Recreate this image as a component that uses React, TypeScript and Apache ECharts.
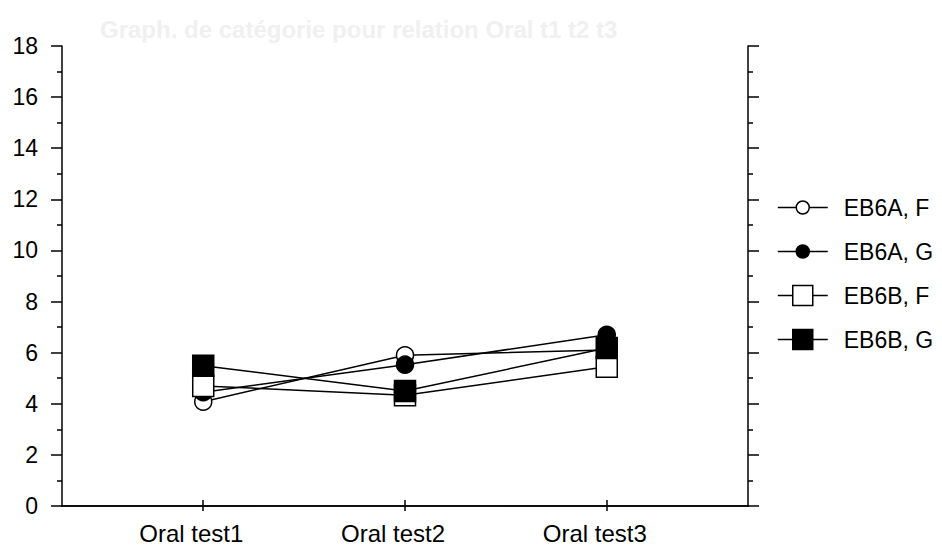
import React, { useEffect, useRef } from "react";
import * as echarts from "echarts";

const categories = ["Oral test1", "Oral test2", "Oral test3"];
const xPositions = [1, 2, 3];
const seriesNames = ["EB6A, F", "EB6A, G", "EB6B, F", "EB6B, G"];
const eb6aF = [4.08, 5.9, 6.1];
const eb6aG = [4.45, 5.53, 6.7];
const eb6bF = [4.7, 4.33, 5.45];
const eb6bG = [5.49, 4.5, 6.18];
const titleText = "Graph. de catégorie pour relation Oral t1 t2 t3";

const FONT = "'Liberation Sans', Arial, sans-serif";

const circleIcon =
  "path://M0,10L18,10M32,10L50,10M18.5,10A6.5,6.5,0,1,1,31.5,10A6.5,6.5,0,1,1,18.5,10Z";
const squareIcon = "path://M0,10L15,10M35,10L50,10M15,0L35,0L35,20L15,20Z";

export default function App() {
  const ref = useRef<HTMLDivElement>(null);
  useEffect(() => {
    if (!ref.current) return;
    const chart = echarts.init(ref.current, null, { renderer: "svg" });
    const values = [eb6aF, eb6aG, eb6bF, eb6bG];
    const fills = ["#ffffff", "#000000", "#ffffff", "#000000"];
    const symbols = ["circle", "circle", "rect", "rect"];
    const sizes = [17, 17, 21, 21];
    const icons = [circleIcon, circleIcon, squareIcon, squareIcon];

    const series = seriesNames.map((name, s) => ({
      name,
      type: "line",
      data: xPositions.map((x, i) => [x, values[s][i]]),
      symbol: symbols[s],
      symbolSize: sizes[s],
      showAllSymbol: true,
      itemStyle: { color: fills[s], borderColor: "#000", borderWidth: 1.5 },
      lineStyle: { color: "#000", width: 1.5 },
      emphasis: { disabled: true },
    }));

    const yCommon = {
      type: "value",
      min: 0,
      max: 18,
      interval: 2,
      splitLine: { show: false },
      axisLine: { show: true, lineStyle: { color: "#000", width: 1.5 } },
      minorTick: { show: true, splitNumber: 2, length: 5, lineStyle: { color: "#000", width: 1.5 } },
    };

    chart.setOption({
      animation: false,
      backgroundColor: "#ffffff",
      title: {
        text: titleText,
        left: 95,
        top: 12,
        textStyle: { color: "#f0f0f0", fontSize: 24, fontWeight: "bold", fontFamily: FONT },
      },
      grid: { left: 62, right: 194, top: 46, bottom: 40, containLabel: false },
      legend: {
        orient: "vertical",
        left: 772,
        top: 191,
        itemWidth: 50,
        itemHeight: 20,
        itemGap: 21,
        selectedMode: false,
        data: seriesNames.map((name, s) => ({
          name,
          icon: icons[s],
          itemStyle: { color: fills[s], borderColor: "#000", borderWidth: 1.5 },
        })),
        textStyle: {
          color: "#000",
          fontSize: 23,
          fontFamily: FONT,
          lineHeight: 20,
          padding: [0, 0, 0, 11],
        },
      },
      xAxis: [
        {
          type: "value",
          position: "bottom",
          min: 0.3,
          max: 3.7,
          splitLine: { show: false },
          axisLine: { show: true, lineStyle: { color: "#000", width: 1.5 } },
          axisTick: { show: true, customValues: xPositions, length: 5, lineStyle: { color: "#000", width: 1.5 } },
          axisLabel: {
            show: true,
            customValues: xPositions,
            formatter: (v: number) => categories[Math.round(v) - 1] ?? "",
            color: "#000",
            fontSize: 24,
            fontFamily: FONT,
            margin: 15,
            padding: [0, 24, 0, 0],
          },
        },
        {
          type: "value",
          position: "top",
          min: 0.3,
          max: 3.7,
          splitLine: { show: false },
          axisLine: { show: true, lineStyle: { color: "#000", width: 1.5 } },
          axisTick: { show: true, customValues: xPositions, length: 6, lineStyle: { color: "#000", width: 1.5 } },
          axisLabel: { show: false },
        },
      ],
      yAxis: [
        {
          ...yCommon,
          position: "left",
          axisTick: { show: true, length: 11, lineStyle: { color: "#000", width: 1.5 } },
          axisLabel: { color: "#000", fontSize: 23, fontFamily: FONT, margin: 24 },
        },
        {
          ...yCommon,
          position: "right",
          axisTick: { show: true, length: 11, lineStyle: { color: "#000", width: 1.5 } },
          axisLabel: { show: false },
        },
      ],
      series,
    });
    return () => chart.dispose();
  }, []);

  return (
    <div
      ref={ref}
      style={{ position: "absolute", left: 0, top: 0, width: 942, height: 546, background: "#fff" }}
    />
  );
}
